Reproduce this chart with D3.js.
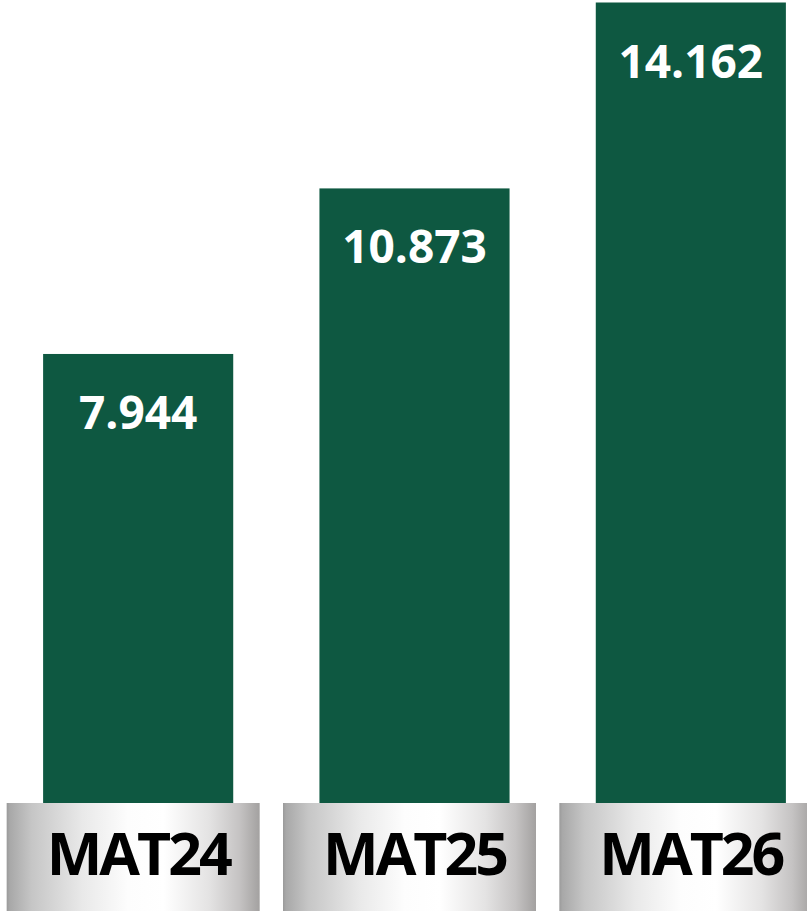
<!DOCTYPE html>
<html>
<head>
<meta charset="utf-8">
<script src="https://cdn.jsdelivr.net/npm/d3@7"></script>
<style>
  html, body { margin: 0; padding: 0; background: #ffffff; }
  svg { display: block; }
</style>
</head>
<body>
<svg id="chart" width="807" height="911"></svg>
<script>
// ---- data ----
const categories = ["MAT24", "MAT25", "MAT26"];
const values = [7.944, 10.873, 14.162];
const valueLabels = ["7.944", "10.873", "14.162"];

// ---- layout ----
const W = 807, H = 911;
const baseY = 803, topY = 2.5;
const svg = d3.select("#chart");

const x = d3.scaleBand()
  .domain(categories)
  .range([0, 829])
  .paddingInner(0.312)
  .paddingOuter(0.156);

const y = d3.scaleLinear()
  .domain([0, d3.max(values)])
  .range([baseY, topY]);

// silver gradient
const defs = svg.append("defs");
const grad = defs.append("linearGradient")
  .attr("id", "silver")
  .attr("x1", "0%").attr("x2", "100%")
  .attr("y1", "0%").attr("y2", "0%");
[
  [0, "#9a9a9a"], [0.012, "#a8a8a8"], [0.1, "#c6c6c6"], [0.3, "#e9e9e9"],
  [0.48, "#fdfdfd"], [0.62, "#ffffff"], [0.8, "#e4e3e3"], [0.92, "#c5c3c3"],
  [1, "#a3a1a0"]
].forEach(([o, c]) => grad.append("stop").attr("offset", o).attr("stop-color", c));

const data = categories.map((c, i) => ({ cat: c, v: values[i], label: valueLabels[i] }));

// bars
svg.append("g").selectAll("rect")
  .data(data)
  .join("rect")
  .attr("x", d => x(d.cat))
  .attr("y", d => y(d.v))
  .attr("width", x.bandwidth())
  .attr("height", d => baseY - y(d.v))
  .attr("fill", "#0e5841");

// value labels
svg.append("g").selectAll("text")
  .data(data)
  .join("text")
  .attr("x", d => x(d.cat) + x.bandwidth() / 2)
  .attr("y", d => y(d.v) + 75)
  .attr("text-anchor", "middle")
  .attr("font-family", "'Open Sans', sans-serif")
  .attr("font-weight", 700)
  .attr("font-size", 46)
  .attr("fill", "#ffffff")
  .text(d => d.label);

// category boxes
const boxW = 253;
const g = svg.append("g").selectAll("g")
  .data(data)
  .join("g");
g.append("rect")
  .attr("x", d => x(d.cat) + x.bandwidth() / 2 - 5 - boxW / 2)
  .attr("y", baseY)
  .attr("width", boxW)
  .attr("height", H - baseY)
  .attr("fill", "url(#silver)");
g.append("text")
  .attr("x", d => x(d.cat) + x.bandwidth() / 2)
  .attr("y", 875)
  .attr("text-anchor", "middle")
  .attr("font-family", "'Open Sans', sans-serif")
  .attr("font-weight", 700)
  .attr("font-size", 59)
  .attr("letter-spacing", -3)
  .attr("fill", "#000000")
  .text(d => d.cat);
</script>
</body>
</html>
